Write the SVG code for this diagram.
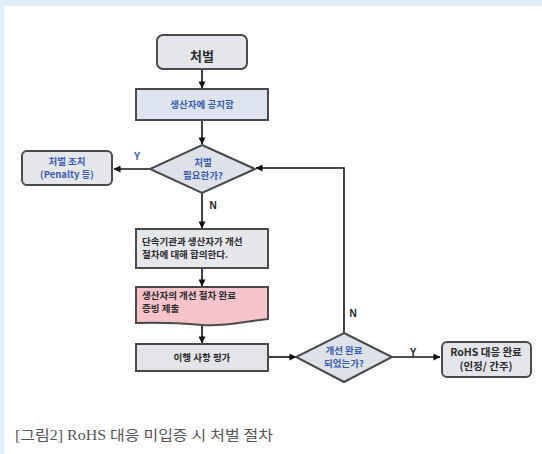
<svg xmlns="http://www.w3.org/2000/svg" width="542" height="454" viewBox="0 0 542 454">
<style>
.box{stroke:#4a4a4a;stroke-width:2}
.t{font-family:"Noto Sans CJK KR","Liberation Sans",sans-serif;font-weight:bold;font-size:9.5px;fill:#2a2a2a}
.b{fill:#3a5caf}
.c{text-anchor:middle}
.lbl{font-family:"Liberation Sans","Noto Sans CJK KR",sans-serif;font-weight:bold;font-size:10px}
.ln{stroke:#111;stroke-width:1.6;fill:none}
</style>
<defs>
<marker id="ar" viewBox="0 0 8 8" refX="7.5" refY="4" markerWidth="7" markerHeight="7" markerUnits="userSpaceOnUse" orient="auto">
<path d="M0,0 L8,4 L0,8 z" fill="#111"/>
</marker>
</defs>
<rect x="0" y="0" width="542" height="454" fill="#ffffff"/>
<rect x="0" y="0" width="542" height="6" fill="#deedf8"/>
<rect x="0" y="0" width="4.5" height="454" fill="#deedf8"/>

<g id="connectors">
<line class="ln" x1="202" y1="70" x2="202" y2="88" marker-end="url(#ar)"/>
<line class="ln" x1="202" y1="120" x2="202" y2="144" marker-end="url(#ar)"/>
<line class="ln" x1="150" y1="169" x2="114" y2="169" marker-end="url(#ar)"/>
<line class="ln" x1="202" y1="193" x2="202" y2="228" marker-end="url(#ar)"/>
<line class="ln" x1="202" y1="268" x2="202" y2="286" marker-end="url(#ar)"/>
<line class="ln" x1="202" y1="324" x2="202" y2="343" marker-end="url(#ar)"/>
<line class="ln" x1="268" y1="357" x2="296" y2="357" marker-end="url(#ar)"/>
<line class="ln" x1="392" y1="357" x2="440" y2="357" marker-end="url(#ar)"/>
<polyline class="ln" points="344,333 344,168 256,168" marker-end="url(#ar)"/>
<text class="lbl" x="137" y="160" text-anchor="middle" fill="#3a5caf">Y</text>
<text class="lbl" x="213" y="209" text-anchor="middle" fill="#222">N</text>
<text class="lbl" x="353" y="317" text-anchor="middle" fill="#222">N</text>
<text class="lbl" x="413" y="356" text-anchor="middle" fill="#222">Y</text>
</g>

<g id="start">
<rect class="box" x="157" y="35" width="90" height="34" rx="6" fill="#e4e6ec"/>
<text class="t c" x="202" y="61" style="font-size:13px">처벌</text>
</g>

<g id="notify">
<rect class="box" x="136" y="89" width="132" height="31" fill="#dde3ef"/>
<text class="t b c" x="202" y="108">생산자에 공지함</text>
</g>

<g id="decision1">
<polygon class="box" points="202,145 255,169 202,193 150,169" fill="#dde1e8"/>
<text class="t b c" x="203" y="166">처벌</text>
<text class="t b c" x="203" y="179">필요한가?</text>
</g>

<g id="penalty">
<rect class="box" x="22" y="151" width="90" height="34" rx="5" fill="#e4e6ec"/>
<text class="t b c" x="67" y="165">처벌 조치</text>
<text class="t b c" x="67" y="178">(Penalty 등)</text>
</g>

<g id="agree">
<rect class="box" x="136" y="229" width="132" height="39" fill="#e6e7ea"/>
<text class="t" x="142" y="245">단속기관과 생산자가 개선</text>
<text class="t" x="142" y="258">절차에 대해 합의한다.</text>
</g>

<g id="submit">
<path class="box" d="M136,287 H268 V319 C245,321 225,327 202,325 C180,323 160,322 136,323 Z" fill="#f6c3cb"/>
<text class="t" x="142" y="299">생산자의 개선 절차 완료</text>
<text class="t" x="142" y="312">증빙 제출</text>
</g>

<g id="evaluate">
<rect class="box" x="136" y="344" width="132" height="27" fill="#e3e5e9"/>
<text class="t c" x="202" y="361">이행 사항 평가</text>
</g>

<g id="decision2">
<polygon class="box" points="344,333 392,357 344,382 296,357" fill="#dde1e8"/>
<text class="t b c" x="344" y="354">개선 완료</text>
<text class="t b c" x="344" y="367">되었는가?</text>
</g>

<g id="done">
<rect class="box" x="442" y="342" width="89" height="35" rx="5" fill="#e3e5ea"/>
<text class="t c" x="486" y="356" style="font-size:10.5px">RoHS 대응 완료</text>
<text class="t c" x="486" y="370" style="font-size:10.5px">(인정/ 간주)</text>
</g>

<text x="15" y="440" font-family="'Liberation Serif','Noto Sans CJK KR',serif" font-size="14" fill="#555" textLength="258" lengthAdjust="spacingAndGlyphs">[그림2] RoHS 대응 미입증 시 처벌 절차</text>
</svg>
